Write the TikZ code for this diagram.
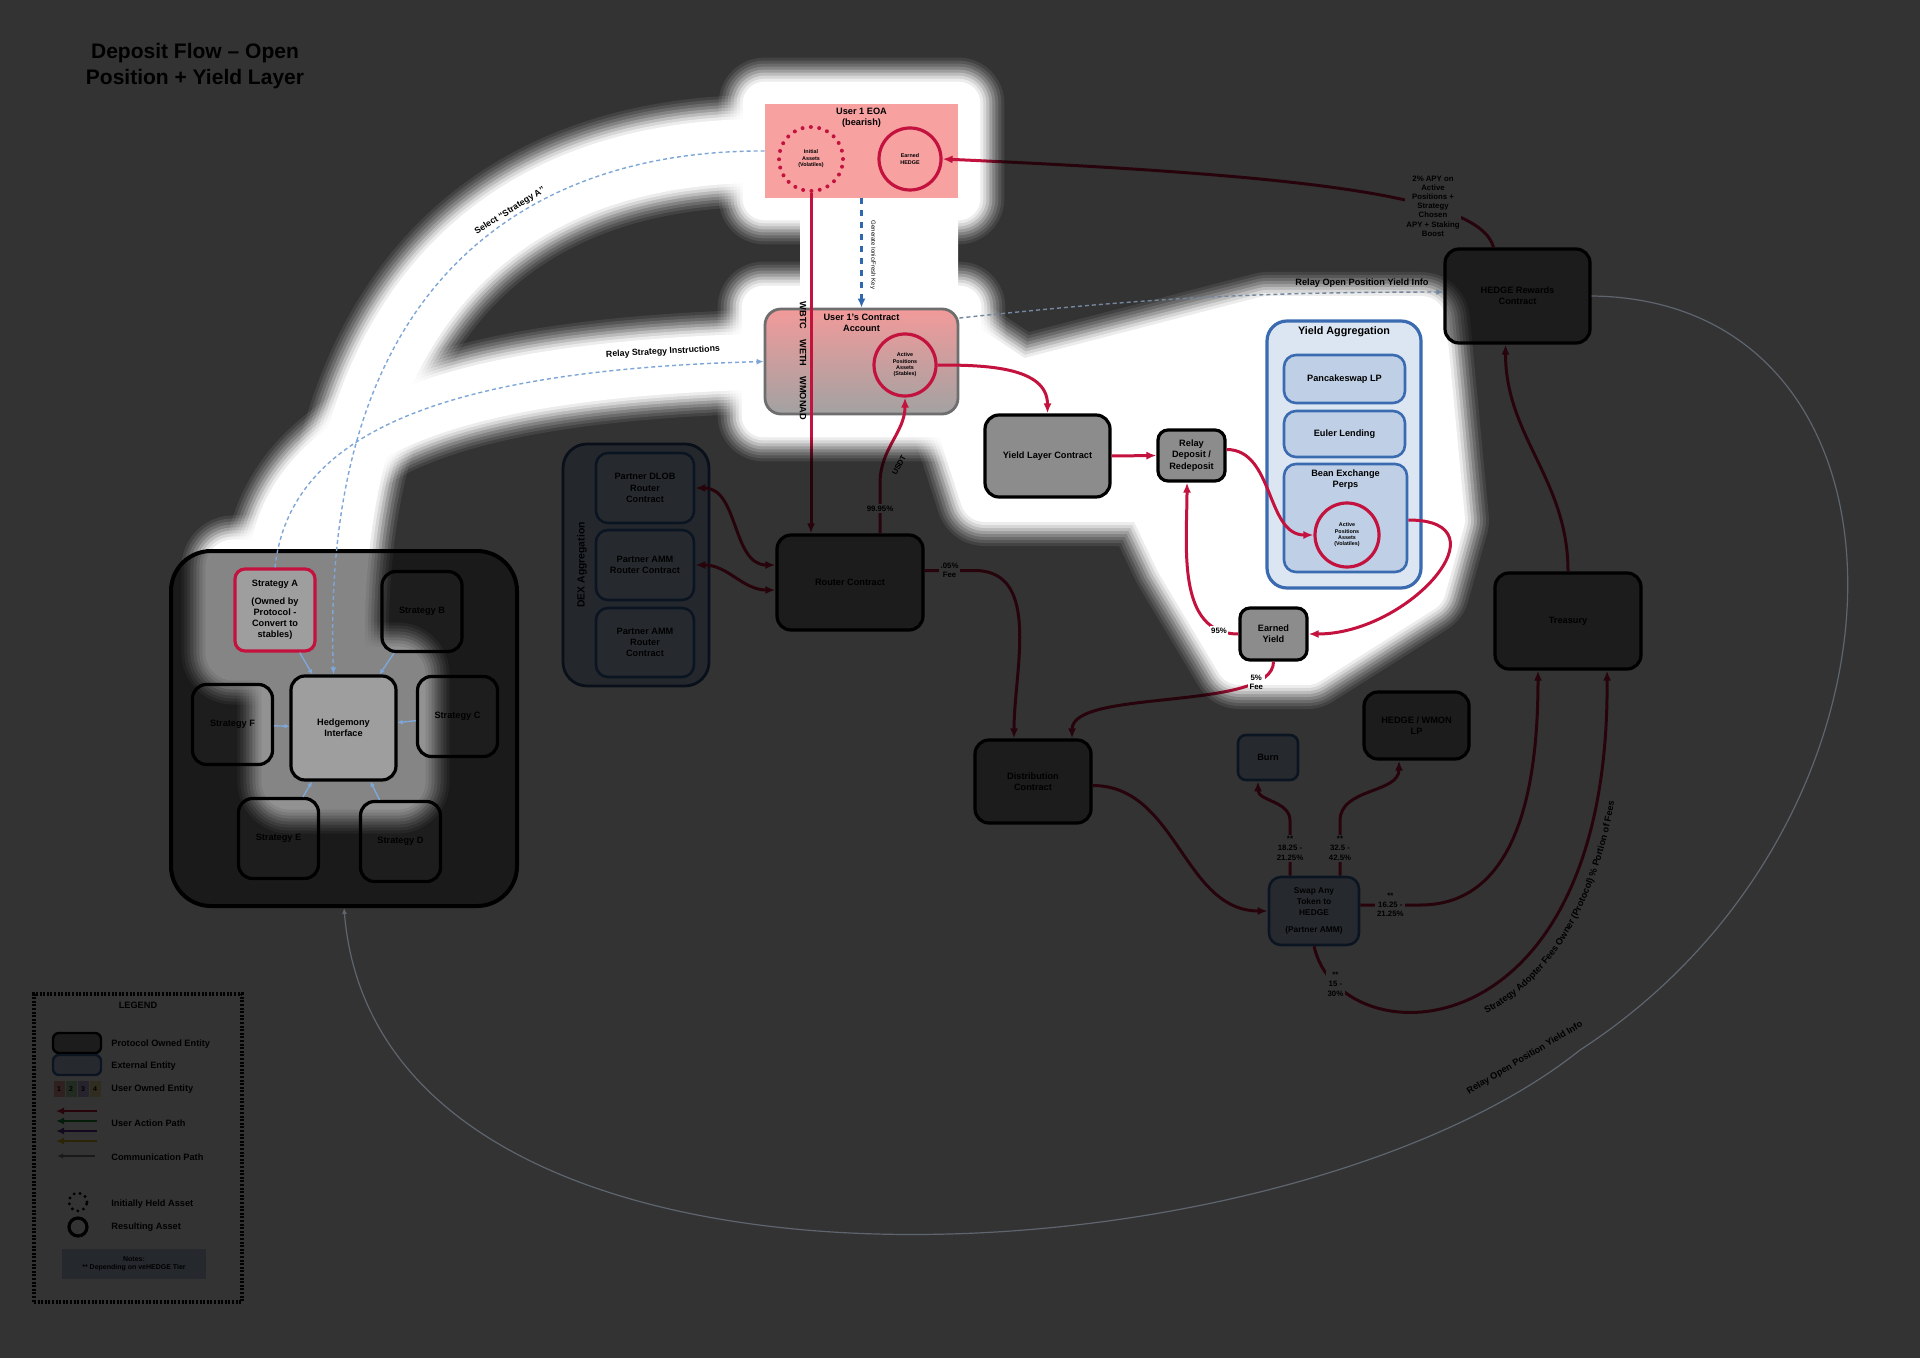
\documentclass[tikz,border=0pt]{standalone}
\usepackage{fontspec}
\setmainfont{Liberation Sans}
\usetikzlibrary{arrows.meta,positioning,decorations.text}

\newcommand\dfont{\fontsize{4.6}{5.6}\selectfont\bfseries}
\newcommand\tfont{\fontsize{3.9}{4.6}\selectfont\bfseries}
\newcommand\lfont{\fontsize{4.6}{5.4}\selectfont\bfseries}
\newcommand\cfont{\fontsize{2.7}{3.2}\selectfont\bfseries}
% soft white halo round a path (core width in px)
\newcommand{\glowpath}[2]{%
  \foreach \ew/\op in {48/0.08,42/0.1,36/0.13,30/0.17,24/0.22,18/0.3,12/0.4,6/0.55}{%
    \pgfmathsetmacro\glw{(#1+\ew)*0.5}%
    \draw[white, opacity=\op, line width=\glw pt, line join=round, line cap=round] #2;
  }%
  \pgfmathsetmacro\glw{#1*0.5}%
  \draw[white, line width=\glw pt, line join=round, line cap=round] #2;}

\begin{document}
\begin{tikzpicture}[x=0.5pt, y=0.5pt,
    every node/.style={font=\dfont, align=center, inner sep=0.5pt},
    protocolbox/.style={draw=black, line width=1.6pt, fill=protofill, rounded corners=7pt},
    extbox/.style={draw=extline, line width=1.3pt, fill=extfill, rounded corners=6pt},
    stratbox/.style={protocolbox, fill=stratfill, minimum width=40pt, minimum height=40pt},
    assetring/.style={circle, draw=crim, line width=1.6pt, font=\cfont, minimum size=31pt},
    userpath/.style={draw=crim, line width=1.5pt, -{Latex[length=5pt,width=4pt]}},
    commpath/.style={draw=commblue, dash pattern=on 2pt off 1.5pt, line width=0.7pt, -{Latex[length=3.5pt,width=3pt]}},
    minilink/.style={draw=commblue, line width=0.7pt, -{Latex[length=2.5pt,width=2.5pt]}},
    tagtext/.style={fill=white, font=\tfont, inner sep=0.8pt},
    legtext/.style={font=\dfont, anchor=west}]
    \definecolor{crim}{HTML}{C4123F}
    \definecolor{salmon}{HTML}{F7A1A1}
    \definecolor{acctTop}{HTML}{F29A9A}
    \definecolor{acctBot}{HTML}{A2A2A2}
    \definecolor{acctline}{HTML}{6E6E6E}
    \definecolor{protofill}{HTML}{8C8C8C}
    \definecolor{stratfill}{HTML}{929292}
    \definecolor{groupfill}{HTML}{858585}
    \definecolor{hedgfill}{HTML}{9E9E9E}
    \definecolor{extfill}{HTML}{C2D3EA}
    \definecolor{extline}{HTML}{3B68A6}
    \definecolor{dexfill}{HTML}{B4C8E4}
    \definecolor{dexline}{HTML}{34537F}
    \definecolor{yaggfill}{HTML}{DCE6F2}
    \definecolor{yaggline}{HTML}{3A6AB0}
    \definecolor{innerfill}{HTML}{BFD0E6}
    \definecolor{commblue}{HTML}{7EA6D6}
    \definecolor{keyblue}{HTML}{2F68AE}
    \definecolor{dimcomm}{HTML}{74879E}
    \definecolor{dimline}{HTML}{5E656E}
    \definecolor{maskgray}{HTML}{333333}
    \definecolor{notefill}{HTML}{B9CBE4}
    \definecolor{userA}{HTML}{F3A3A3}
    \definecolor{userB}{HTML}{A9D9A9}
    \definecolor{userC}{HTML}{C3B1E2}
    \definecolor{userD}{HTML}{F3E4A0}
    \definecolor{userGreen}{HTML}{1E8C3A}
    \definecolor{userPurple}{HTML}{5B2E9E}
    \definecolor{userYellow}{HTML}{D9B81E}

    \useasboundingbox (0,0) rectangle (1920,-1358);
    \fill[white] (0,0) rectangle (1920,-1358);

    \node[font=\fontsize{10.5}{12.6}\selectfont\bfseries] (title) at (195,-66) {Deposit Flow – Open\\Position + Yield Layer};

    % =================== user wallet and contract account ===================
    \node[fill=salmon, minimum width=96.5pt, minimum height=47pt] (eoa) at (861.5,-151) {};
    \node[below=1.5pt of eoa.north] (eoaT) {User 1 EOA\\(bearish)};
    \node[assetring, dash pattern=on 0pt off 4.2pt, line cap=round, line width=2pt, minimum size=32pt] (initA) at (811,-159) {Initial\\Assets\\(Volatiles)};
    \node[assetring] (hedgeE) at (910,-159) {Earned\\HEDGE};

    \node[draw=acctline, line width=1.4pt, rounded corners=8pt, top color=acctTop, bottom color=acctBot, minimum width=96.5pt, minimum height=52.5pt] (acct) at (861.5,-361.5) {};
    \node[below=2.5pt of acct.north] (acctT) {User 1's Contract\\Account};
    \node[assetring] (active) at (905,-365) {Active\\Positions\\Assets\\(Stables)};
    \node[rotate=-90] (tokens) at (803,-361) {WBTC\hspace{5pt}WETH\hspace{5pt}WMONAD};

    \draw[draw=keyblue, line width=1.6pt, dash pattern=on 3pt off 3pt, -{Latex[length=4.5pt,width=4pt]}] (eoa.south) -- (acct.north);
    \node[rotate=-90, font=\fontsize{3}{3.5}\selectfont] (keyT) at (873,-255) {Generate Ionic/Fresh Key};

    % =================== strategies ===================
    \node[protocolbox, fill=groupfill, line width=2pt, rounded corners=20pt, minimum width=173pt, minimum height=177.5pt] (strats) at (344,-728.5) {};
    \node[stratbox, fill=hedgfill, draw=crim, minimum height=41pt, rounded corners=5pt] (stratA) at (275,-610) {Strategy A\\[3pt](Owned by\\Protocol -\\Convert to\\stables)};
    \node[stratbox] (stratB) at (422,-611.5) {Strategy B};
    \node[stratbox] (stratC) at (457.5,-716.5) {Strategy C};
    \node[stratbox] (stratF) at (232.5,-724.5) {Strategy F};
    \node[stratbox] (stratE) at (278.5,-838.5) {Strategy E};
    \node[stratbox] (stratD) at (400.5,-841.5) {Strategy D};
    \node[protocolbox, fill=hedgfill, minimum width=52.5pt, minimum height=52pt] (hedg) at (343.5,-728) {Hedgemony\\Interface};
    \foreach \s in {stratA,stratB,stratC,stratD,stratE,stratF}
      \draw[minilink] (\s) -- (hedg);

    \draw[commpath] (eoa.west) .. controls (520,-150) and (320,-290) .. ([xshift=-5pt]hedg.north);
    \draw[commpath] (stratA.north) .. controls (290,-430) and (450,-370) .. (acct.west);
    \node[font=\fontsize{4.4}{5}\selectfont\bfseries, rotate=32] (selT) at (510,-211) {Select “Strategy A”};
    \node[font=\fontsize{4.4}{5}\selectfont\bfseries, rotate=3] (relT) at (663,-352) {Relay Strategy Instructions};

    % =================== DEX aggregation ===================
    \node[draw=dexline, line width=1.4pt, fill=dexfill, rounded corners=12pt, minimum width=73pt, minimum height=121pt] (dex) at (636,-565) {};
    \node[rotate=90, font=\fontsize{5.2}{6}\selectfont\bfseries] (dexT) at (582,-565) {DEX Aggregation};
    \node[extbox, minimum width=49pt, minimum height=35pt] (dlob) at (645,-488) {Partner DLOB\\Router\\Contract};
    \node[extbox, minimum width=49pt, minimum height=35pt] (amm1) at (645,-565) {Partner AMM\\Router Contract};
    \node[extbox, minimum width=49pt, minimum height=34.5pt] (amm2) at (645,-642.5) {Partner AMM\\Router\\Contract};

    % =================== protocol contracts ===================
    \node[protocolbox, minimum width=73pt, minimum height=47.5pt] (router) at (850,-582.5) {Router Contract};
    \node[protocolbox, minimum width=62.5pt, minimum height=41pt] (yieldc) at (1047.5,-456) {Yield Layer Contract};
    \node[protocolbox, minimum width=33.5pt, minimum height=25.5pt, rounded corners=5pt] (relay) at (1191.5,-455.5) {Relay\\Deposit /\\Redeposit};
    \node[protocolbox, minimum width=33.5pt, minimum height=26pt, rounded corners=5pt] (earned) at (1273.5,-634) {Earned\\Yield};
    \node[protocolbox, minimum width=58pt, minimum height=41.5pt] (dist) at (1033,-781.5) {Distribution\\Contract};
    \node[protocolbox, minimum width=52.5pt, minimum height=33.5pt] (lp) at (1416.5,-725.5) {HEDGE / WMON\\LP};
    \node[protocolbox, minimum width=73pt, minimum height=48pt] (treasury) at (1568,-621) {Treasury};
    \node[protocolbox, minimum width=72.5pt, minimum height=47pt] (rewards) at (1517.5,-296) {HEDGE Rewards\\Contract};
    \node[extbox, minimum width=30pt, minimum height=22.5pt, rounded corners=4pt] (burn) at (1268,-757.5) {Burn};
    \node[extbox, minimum width=45pt, minimum height=34pt, font=\fontsize{4.2}{5.4}\selectfont\bfseries] (swap) at (1314,-911) {Swap Any\\Token to\\HEDGE\\[3pt](Partner AMM)};

    % =================== yield aggregation ===================
    \node[draw=yaggline, line width=1.6pt, fill=yaggfill, rounded corners=10pt, minimum width=77pt, minimum height=133.5pt] (yagg) at (1344,-454.5) {};
    \node[font=\fontsize{5.4}{6.4}\selectfont\bfseries, below=3pt of yagg.north] (yaggT) {Yield Aggregation};
    \node[extbox, fill=innerfill, draw=yaggline, minimum width=60.5pt, minimum height=24pt] (pancake) at (1344.5,-379) {Pancakeswap LP};
    \node[extbox, fill=innerfill, draw=yaggline, minimum width=60.5pt, minimum height=23pt] (euler) at (1344.5,-434) {Euler Lending};
    \node[extbox, fill=innerfill, draw=yaggline, minimum width=61.5pt, minimum height=54pt] (bean) at (1345.5,-518) {};
    \node[below=3pt of bean.north] (beanT) {Bean Exchange\\Perps};
    \node[assetring, minimum size=32pt] (beanpos) at (1347,-535) {Active\\Positions\\Assets\\(Volatiles)};

    % =================== user action paths ===================
    \draw[userpath] (initA.south) -- (initA.south |- router.north);
    \draw[userpath] ([xshift=15pt]router.north) -- node[tagtext]{99.95\%} ++(0,50) to[out=90,in=-90] (active.south);
    \node[font=\tfont, rotate=62] (usdt) at (899,-465) {USDT};
    \draw[userpath, {Latex[length=5pt,width=4pt]}-{Latex[length=5pt,width=4pt]}] (dlob.east) to[out=0,in=180] ([yshift=8.75pt]router.west);
    \draw[userpath, {Latex[length=5pt,width=4pt]}-{Latex[length=5pt,width=4pt]}] (amm1.east) to[out=0,in=180] ([yshift=-3.75pt]router.west);
    \draw[userpath] ([yshift=6pt]router.east) -- node[tagtext]{.05\%\\Fee} ++(50,0) to[out=0,in=90] ([xshift=-9.5pt]dist.north);
    \draw[userpath] (active.east) to[out=0,in=90] (yieldc.north);
    \draw[userpath] (yieldc.east) -- (relay.west);
    \draw[userpath] ([yshift=3pt]relay.east) to[out=0,in=180] (beanpos.west);
    \draw[userpath] ([yshift=-1pt]bean.east) to[out=0,in=0,looseness=1.7] (earned.east);
    \draw[userpath] (earned.west) to[out=180,in=-90] node[pos=0.12, tagtext]{95\%} ([xshift=-2.25pt]relay.south);
    \draw[userpath] (earned.south) to[out=-90,in=90,looseness=0.6] node[pos=0.18, tagtext]{5\%\\Fee} ([xshift=19.5pt]dist.north);
    \draw[userpath] ([yshift=-2pt]dist.east) to[out=0,in=180] (swap.west);
    \draw[userpath] ([xshift=-12pt]swap.north) -- node[tagtext]{**\\18.25 -\\21.25\%} ++(0,55) to[out=90,in=-90] ([xshift=-5pt]burn.south);
    \draw[userpath] ([xshift=13pt]swap.north) -- node[tagtext]{**\\32.5 -\\42.5\%} ++(0,55) to[out=90,in=-90] ([xshift=-8.75pt]lp.south);
    \draw[userpath] ([yshift=3pt]swap.east) -- node[tagtext]{**\\16.25 -\\21.25\%} ++(60,0) to[out=0,in=-90] ([xshift=-15pt]treasury.south);
    \draw[userpath] (swap.south) .. controls (1340,-1060) and (1610,-1060) .. node[pos=0.13, tagtext]{**\\15 -\\30\%} ([xshift=19.5pt]treasury.south);
    \path[decorate, decoration={text along path, text={|\lfont|Strategy Adopter Fees Owner (Protocol) {\%} Portion of Fees}, text align={align=right, right indent=67pt}}]
      (1328,-960) .. controls (1352,-1080) and (1630,-1078) .. (1624,-669);
    \draw[userpath] (treasury.north) to[out=90,in=-90] ([xshift=-6pt]rewards.south);
    \draw[userpath] ([xshift=-12pt]rewards.north) .. controls (1480,-195) and (1300,-175) .. (hedgeE.east);
    \node[tagtext] (apy) at (1433,-206) {2\% APY on\\Active\\Positions +\\Strategy\\Chosen\\APY + Staking\\Boost};

    % =================== legend ===================
    \node[draw=black, line width=1.8pt, dash pattern=on 1pt off 0.8pt, minimum width=104pt, minimum height=154pt] (legend) at (138,-1148) {};
    \node (legT) at (138,-1005) {LEGEND};
    \node[protocolbox, rounded corners=3pt, line width=1.2pt, minimum width=24pt, minimum height=10pt] (lgP) at (77,-1043) {};
    \node[legtext] at (110,-1044) {Protocol Owned Entity};
    \node[extbox, rounded corners=3pt, line width=1.2pt, minimum width=24pt, minimum height=10pt] (lgE) at (77,-1065) {};
    \node[legtext] at (110,-1066) {External Entity};
    \foreach \i/\c in {1/userA,2/userB,3/userC,4/userD}
      \node[fill=\c, minimum width=5.5pt, minimum height=8pt, font=\fontsize{3.5}{4}\selectfont\bfseries] (lgU\i) at (47+\i*12,-1089) {\i};
    \node[legtext] at (110,-1089) {User Owned Entity};
    \foreach \yy/\c in {1111/crim,1121/userGreen,1131/userPurple,1141/userYellow}
      \draw[line width=1.4pt, draw=\c, {Latex[length=4pt,width=3.5pt]}-] (56,-\yy) -- (97,-\yy);
    \node[legtext] at (110,-1123) {User Action Path};
    \draw[line width=0.6pt, draw=gray, {Latex[length=3pt,width=2.5pt]}-] (57,-1156) -- (95,-1156);
    \node[legtext] at (110,-1157) {Communication Path};
    \node[circle, draw=black, line width=1.6pt, dash pattern=on 0pt off 3pt, line cap=round, minimum size=9pt] (lgI) at (78,-1202) {};
    \node[legtext] at (110,-1204) {Initially Held Asset};
    \node[circle, draw=black, line width=1.6pt, minimum size=9pt] (lgR) at (78,-1227) {};
    \node[legtext] at (110,-1227) {Resulting Asset};
    \node[fill=notefill, minimum width=72pt, minimum height=15pt, font=\fontsize{3.5}{4.3}\selectfont\bfseries] (notes) at (134,-1264) {Notes:\\** Depending on veHEDGE Tier};

    % =================== spotlight: dim all but the halo ===================
    \begin{scope}[blend mode=multiply]
      \begin{scope}[transparency group]
        \fill[maskgray] (0,0) rectangle (1920,-1358);
        \glowpath{44}{(eoa.north west) rectangle (eoa.south east)}
        \fill[white] (eoa.north west) rectangle (eoa.south east);
        \fill[white] (800,-195) rectangle (958,-312);
        \glowpath{44}{(acct.north west) rectangle (acct.south east)}
        \fill[white] (acct.north west) rectangle (acct.south east);
        \glowpath{50}{(945,-335) -- (1020,-385) -- (1267,-321) -- (1421,-321) -- (1440,-520) -- (1421,-588) -- (1307,-660) -- (1240,-660) -- (1180,-560) -- (1150,-497) -- (985,-497) -- (960,-420) -- cycle}
        \fill[white] (945,-335) -- (1020,-385) -- (1267,-321) -- (1421,-321) -- (1440,-520) -- (1421,-588) -- (1307,-660) -- (1240,-660) -- (1180,-560) -- (1150,-497) -- (985,-497) -- (960,-420) -- cycle;
        \glowpath{64}{(eoa.west) .. controls (520,-150) and (320,-290) .. ([xshift=-5pt]hedg.north)}
        \glowpath{56}{(stratA.north) .. controls (290,-430) and (450,-370) .. (acct.west)}
        \glowpath{56}{(stratA.north west) rectangle (stratA.south east)}
        \glowpath{56}{(hedg.north west) rectangle (hedg.south east)}
        \fill[white] (stratA.north west) rectangle (stratA.south east) (hedg.north west) rectangle (hedg.south east) (stratA.south west) rectangle (hedg.north east);
      \end{scope}
    \end{scope}

    % communication paths over the dimmed layer
    \draw[commpath, draw=dimcomm] ([yshift=21.75pt]acct.east) to[bend left=3] ([yshift=2pt]rewards.west);
    \node[font=\lfont] (openT) at (1362,-283) {Relay Open Position Yield Info};
    \draw[draw=dimline, line width=0.6pt, -{Latex[length=3pt,width=2.5pt]}] (rewards.east) .. controls (1935,-300) and (1935,-820) .. (1580,-1050) .. controls (1280,-1290) and (380,-1345) .. (strats.south);
    \node[font=\lfont, rotate=31] (infoT) at (1525,-1058) {Relay Open Position Yield Info};
\end{tikzpicture}
\end{document}
